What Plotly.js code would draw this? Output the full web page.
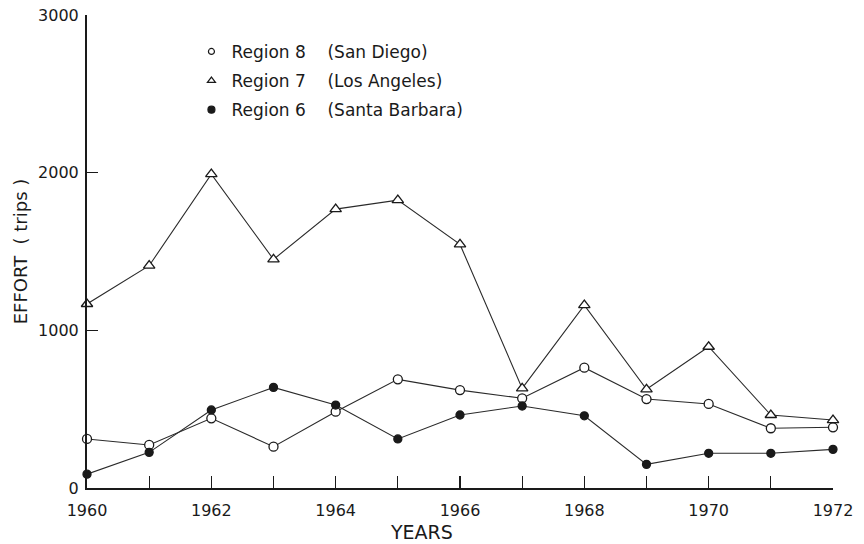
<!DOCTYPE html>
<html>
<head>
<meta charset="utf-8">
<script src="https://cdn.plot.ly/plotly-3.0.1.min.js"></script>
<style>html,body{margin:0;padding:0;background:#fff;}#chart{width:864px;height:544px;}</style>
</head>
<body>
<div id="chart"></div>
<script>
const years = [1960,1961,1962,1963,1964,1965,1966,1967,1968,1969,1970,1971,1972];
const region8SanDiego = [311,273,442,262,484,689,621,569,763,564,533,379,385];
const region7LosAngeles = [1167,1410,1991,1450,1769,1826,1545,632,1160,626,896,463,431];
const region6SantaBarbara = [88,226,495,638,526,311,463,520,458,150,220,220,245];
const xTickLabels = ['1960','','1962','','1964','','1966','','1968','','1970','','1972'];
const yTickVals = [0,1000,2000,3000];
const yTickLabels = ['0','1000','2000','3000'];
const legendNames = [
  'Region\u00a08\u00a0\u00a0\u00a0\u00a0(San Diego)',
  'Region\u00a07\u00a0\u00a0\u00a0\u00a0(Los Angeles)',
  'Region\u00a06\u00a0\u00a0\u00a0\u00a0(Santa Barbara)'
];
const xTitle = 'YEARS';
const yTitle = 'EFFORT\u00a0\u00a0(\u00a0trips\u00a0)';

const ink = '#1a1a1a';
const font = '"DejaVu Sans", sans-serif';

function series(y, sym, size, fill) {
  return {
    x: years, y: y, mode: 'lines+markers', showlegend: false, cliponaxis: false,
    line: {color: '#2a2a2a', width: 1.1},
    marker: {symbol: sym, size: size, color: fill, line: {color: ink, width: 1.3}}
  };
}
function legendItem(name, sym, size, fill, g) {
  return {
    x: [null], y: [null], mode: 'markers', name: name, legendgroup: g,
    marker: {symbol: sym, size: size, color: fill, line: {color: ink, width: 1.2}}
  };
}

const data = [
  series(region8SanDiego, 'circle', 9, '#fff'),
  series(region7LosAngeles, 'triangle-up', 10, '#fff'),
  series(region6SantaBarbara, 'circle', 8, ink),
  legendItem(legendNames[0], 'circle', 6, '#fff', 'a'),
  legendItem(legendNames[1], 'triangle-up', 7, '#fff', 'b'),
  legendItem(legendNames[2], 'circle', 7, ink, 'c')
];

const layout = {
  width: 864, height: 544,
  margin: {l: 87, r: 31, t: 15, b: 56},
  paper_bgcolor: '#fff', plot_bgcolor: '#fff',
  font: {family: font, color: ink, size: 16},
  showlegend: true,
  legend: {
    x: 0.14, y: 0.96, xanchor: 'left', yanchor: 'top',
    traceorder: 'grouped', tracegroupgap: 4,
    font: {family: font, size: 17, color: ink},
    bgcolor: 'rgba(0,0,0,0)', itemwidth: 30
  },
  xaxis: {
    range: [1960, 1972], tickmode: 'array', tickvals: years, ticktext: xTickLabels,
    ticks: 'inside', ticklen: 12, tickwidth: 1.2, tickcolor: ink,
    showline: true, linecolor: ink, linewidth: 2, showgrid: false, zeroline: false,
    ticklabelstandoff: 7,
    tickfont: {family: font, size: 16, color: ink}
  },
  yaxis: {
    range: [0, 3000], tickmode: 'array', tickvals: yTickVals, ticktext: yTickLabels,
    ticks: 'inside', ticklen: 11, tickwidth: 1.5, tickcolor: ink,
    showline: true, linecolor: ink, linewidth: 2, showgrid: false, zeroline: false,
    ticklabelstandoff: 3,
    tickfont: {family: font, size: 16, color: ink},
    title: {text: yTitle, font: {family: font, size: 18, color: ink}, standoff: 6}
  },
  annotations: [{
    text: xTitle, xref: 'paper', yref: 'paper', x: 0.449, y: 0,
    xanchor: 'center', yanchor: 'middle', yshift: -44, showarrow: false,
    font: {family: font, size: 19, color: ink}
  }]
};

Plotly.newPlot('chart', data, layout, {displayModeBar: false, staticPlot: true});
</script>
</body>
</html>
